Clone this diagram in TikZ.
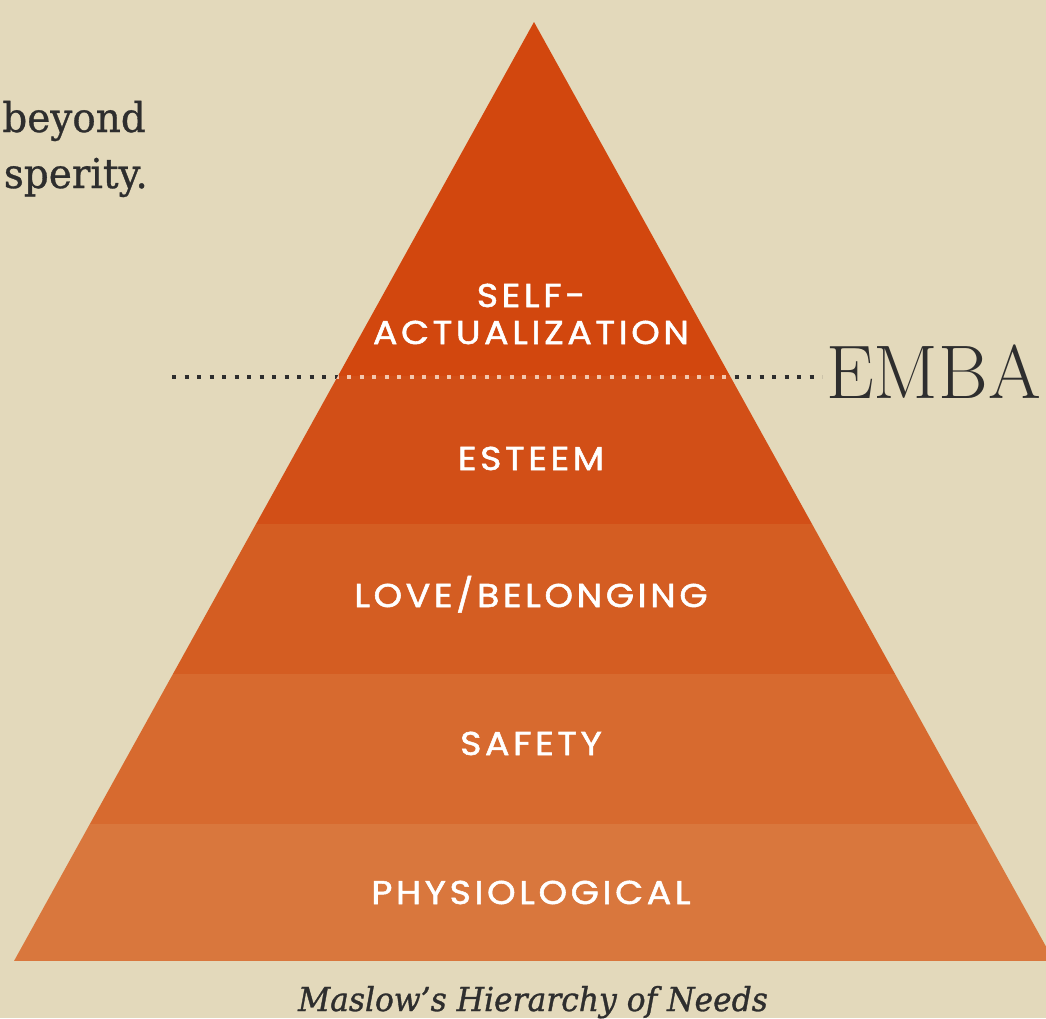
\documentclass[tikz,border=0pt]{standalone}
\usepackage{fontspec}
\newfontfamily\labfont{Poppins}[LetterSpace=11, FakeBold=1.6, FakeStretch=1.1]
\newfontfamily\serfont{DejaVu Serif}[FakeStretch=0.95, FakeBold=0.8]
\newfontfamily\capfont{DejaVu Serif}[FakeStretch=0.95, FakeBold=1]
\definecolor{bgc}{HTML}{E3D9BB}
\definecolor{cA}{HTML}{D2470E}
\definecolor{cB}{HTML}{D24F17}
\definecolor{cC}{HTML}{D45D22}
\definecolor{cD}{HTML}{D76A2F}
\definecolor{cE}{HTML}{D9773D}
\definecolor{ink}{HTML}{2E2E2E}
\definecolor{dotin}{HTML}{F4C7AE}
\tikzset{
  lab/.style={text=white, inner sep=0pt, anchor=base, font=\labfont\fontsize{33}{38}\selectfont},
  dotline/.style={line width=4pt, dash pattern=on 4pt off 8.5pt},
  ser/.style={text=ink, inner sep=0pt, font=\serfont\fontsize{41}{48}\selectfont}
}
\begin{document}
\begin{tikzpicture}[x=1pt,y=-1pt]
\fill[bgc] (0,0) rectangle (1046,1018);
\useasboundingbox (0,0) rectangle (1046,1018);
\coordinate (apex) at (534,22);
\coordinate (bl) at (14,961);
\coordinate (br) at (1054,961);
\coordinate (dl) at (172,377);
\coordinate (dr) at (822,377);
\draw[dotline, ink] (dl) -- (dr);
\begin{scope}
  \clip (0,0) rectangle (1046,1018);
  \clip (apex) -- (bl) -- (br) -- cycle;
  \fill[cA] (0,0) rectangle (1100,376);
  \fill[cB] (0,376) rectangle (1100,524);
  \fill[cC] (0,524) rectangle (1100,674);
  \fill[cD] (0,674) rectangle (1100,824);
  \fill[cE] (0,824) rectangle (1100,961);
  \draw[dotline, dotin] (dl) -- (dr);
\end{scope}
\node[lab] (self) at (531,307) {SELF-};
\node[lab] (act) at (531,344) {ACTUALIZATION};
\node[lab] (est) at (531,470) {ESTEEM};
\node[lab] (love) at (531,607) {LOVE/BELONGING};
\node[lab] (safe) at (531,755) {SAFETY};
\node[lab] (phys) at (531,904) {PHYSIOLOGICAL};
\node[ser, anchor=base east] (t1) at (146,132) {beyond};
\node[ser, anchor=base east] (t2) at (148,188) {sperity.};
\node[text=ink, inner sep=0pt, anchor=base west, font=\fontsize{76}{86}\selectfont] (emba) at (826,398) {EMBA};
\node[text=ink, inner sep=0pt, anchor=base, font=\capfont\itshape\fontsize{33}{38}\selectfont] (cap) at (533,1011) {Maslow’s Hierarchy of Needs};
\end{tikzpicture}
\end{document}
